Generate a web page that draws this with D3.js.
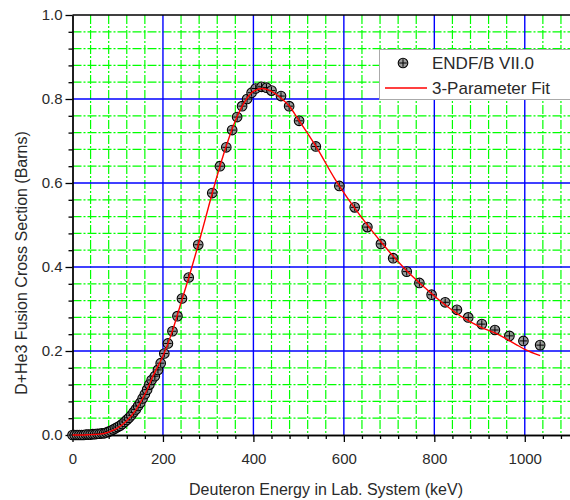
<!DOCTYPE html>
<html>
<head>
<meta charset="utf-8">
<script src="https://cdnjs.cloudflare.com/ajax/libs/d3/7.8.5/d3.min.js"></script>
<style>
body { margin: 0; background: #fff; }
text { font-family: "Liberation Sans", Arial, sans-serif; fill: #2a2a2a; }
</style>
</head>
<body>
<div id="chart"></div>
<script>
var width = 570;
var height = 500;

// ENDF/B VII.0 points (keV, barns)
var endfEnergy = [0, 5, 10, 15, 20, 25, 30, 35, 40, 45, 50, 55, 60, 65, 70, 75,
    80, 85, 90, 95, 100, 105, 110, 115, 120, 125, 130, 135, 140, 145, 150, 155,
    160, 165, 170, 175, 182, 189, 195, 203, 211, 221, 232, 242, 257, 278, 309,
    326, 340, 353, 364, 375, 386, 396, 405, 418, 429, 440, 461, 479, 501, 538,
    590, 624, 652, 682, 709, 739, 767, 794, 824, 850, 875, 905, 934, 966, 997, 1034];
var endfSigma = [0, 0, 0, 0, 0, 0, 0.001, 0.001, 0.001, 0.002, 0.002, 0.003, 0.003, 0.004, 0.004, 0.006,
    0.008, 0.010, 0.013, 0.016, 0.019, 0.022, 0.026, 0.031, 0.036, 0.041, 0.047, 0.054, 0.061, 0.069, 0.077, 0.087,
    0.097, 0.108, 0.120, 0.131, 0.140, 0.155, 0.171, 0.194, 0.218, 0.247, 0.283, 0.325, 0.375, 0.453, 0.576,
    0.640, 0.685, 0.726, 0.757, 0.783, 0.800, 0.815, 0.825, 0.829, 0.827, 0.820, 0.807, 0.783, 0.748, 0.687,
    0.593, 0.542, 0.495, 0.455, 0.421, 0.389, 0.362, 0.334, 0.316, 0.298, 0.280, 0.264, 0.250, 0.236, 0.224, 0.214];

// 3-parameter fit curve
var fitEnergy = [0, 20, 40, 60, 80, 100, 120, 140, 160, 180, 200, 220, 240, 260, 280, 300,
    320, 340, 360, 380, 400, 420, 440, 460, 480, 500, 540, 580, 620, 660, 700, 740,
    780, 820, 860, 900, 940, 980, 1000, 1034];
var fitSigma = [0, 0, 0.001, 0.002, 0.007, 0.017, 0.034, 0.060, 0.097, 0.145, 0.188, 0.245, 0.315, 0.385, 0.460, 0.540,
    0.618, 0.688, 0.748, 0.792, 0.818, 0.825, 0.818, 0.803, 0.782, 0.750, 0.684, 0.610, 0.546, 0.489, 0.437, 0.390,
    0.350, 0.313, 0.282, 0.258, 0.240, 0.216, 0.204, 0.189];

var xTicks = [0, 200, 400, 600, 800, 1000];
var yTicks = [0.0, 0.2, 0.4, 0.6, 0.8, 1.0];

var legendLabels = ["ENDF/B VII.0", "3-Parameter Fit"];

////////////////////////////////////////////////////////////////////////////////

var x = d3.scaleLinear().domain([0, 1100]).range([72.5, 570]);
var y = d3.scaleLinear().domain([0, 1]).range([435, 15]);

var xMinor = d3.range(0, 1101, 40).filter(function(d) { return d % 200 != 0; });
var yMinor = d3.range(1, 25).filter(function(i) { return i % 5 != 0; })
    .map(function(i) { return i * 0.04; });

var svg = d3.select('#chart').append('svg')
    .attr('width', width)
    .attr('height', height);

// grid
var grid = svg.append('g');
grid.selectAll('.gx').data(xMinor).enter().append('line')
    .attr('x1', function(d) { return x(d); })
    .attr('x2', function(d) { return x(d); })
    .attr('y1', y(1)).attr('y2', y(0))
    .attr('stroke', '#00ff00').attr('stroke-width', 1.2)
    .attr('stroke-dasharray', '9,2,2,2');
grid.selectAll('.gy').data(yMinor).enter().append('line')
    .attr('x1', x(0)).attr('x2', width)
    .attr('y1', function(d) { return y(d); })
    .attr('y2', function(d) { return y(d); })
    .attr('stroke', '#00ff00').attr('stroke-width', 1.2)
    .attr('stroke-dasharray', '9,2,2,2');
grid.selectAll('.mx').data(xTicks.slice(1)).enter().append('line')
    .attr('x1', function(d) { return x(d); })
    .attr('x2', function(d) { return x(d); })
    .attr('y1', y(1)).attr('y2', y(0))
    .attr('stroke', '#0000ff').attr('stroke-width', 1.4);
grid.selectAll('.my').data(yTicks.slice(1, -1)).enter().append('line')
    .attr('x1', x(0)).attr('x2', width)
    .attr('y1', function(d) { return y(d); })
    .attr('y2', function(d) { return y(d); })
    .attr('stroke', '#0000ff').attr('stroke-width', 1.4);

// top frame
svg.append('line')
    .attr('x1', x(0)).attr('x2', width)
    .attr('y1', y(1)).attr('y2', y(1))
    .attr('stroke', '#000').attr('stroke-width', 1.3);

// axes
var xAxisMinor = d3.axisBottom(x).tickValues(xMinor).tickSize(4).tickSizeOuter(0).tickFormat('');
var xAxis = d3.axisBottom(x).tickValues(xTicks).tickSize(7).tickSizeOuter(0).tickPadding(11)
    .tickFormat(d3.format('d'));
var yAxisMinor = d3.axisLeft(y).tickValues(yMinor).tickSize(4).tickSizeOuter(0).tickFormat('');
var yAxis = d3.axisLeft(y).tickValues(yTicks).tickSize(7).tickSizeOuter(0).tickPadding(3)
    .tickFormat(d3.format('.1f'));

[xAxisMinor, xAxis].forEach(function(a) {
    svg.append('g').attr('transform', 'translate(0,' + y(0) + ')').call(a);
});
[yAxisMinor, yAxis].forEach(function(a) {
    svg.append('g').attr('transform', 'translate(' + x(0) + ',0)').call(a);
});
svg.selectAll('.domain, .tick line').attr('stroke', '#000').attr('stroke-width', 1.3);
svg.selectAll('.tick text')
    .style('font-family', '"Liberation Sans", Arial, sans-serif')
    .style('font-size', '15px')
    .attr('fill', '#2a2a2a');

// axis titles
svg.append('text')
    .attr('x', 326).attr('y', 495)
    .attr('text-anchor', 'middle')
    .style('font-size', '16px')
    .text('Deuteron Energy in Lab. System (keV)');
svg.append('text')
    .attr('transform', 'translate(27,263) rotate(-90)')
    .attr('text-anchor', 'middle')
    .style('font-size', '16px')
    .text('D+He3 Fusion Cross Section (Barns)');

// markers
function drawMarker(g) {
    g.append('circle')
        .attr('r', 4.8)
        .attr('fill', '#8c8c8c')
        .attr('fill-opacity', 0.85)
        .attr('stroke', '#000')
        .attr('stroke-width', 1.1);
    g.append('path')
        .attr('d', 'M-3.8,0H3.8M0,-3.8V3.8')
        .attr('stroke', '#000')
        .attr('stroke-width', 1);
}

var points = svg.append('g').selectAll('g')
    .data(endfEnergy)
    .enter().append('g')
    .attr('transform', function(d, i) {
        return 'translate(' + x(d) + ',' + y(endfSigma[i]) + ')';
    });
drawMarker(points);

// fit line
var line = d3.line()
    .x(function(d) { return x(d); })
    .y(function(d, i) { return y(fitSigma[i]); })
    .curve(d3.curveMonotoneX);
svg.append('path')
    .attr('d', line(fitEnergy))
    .attr('fill', 'none')
    .attr('stroke', '#ff0000')
    .attr('stroke-width', 1.4);

// legend
var legend = svg.append('g');
legend.append('rect')
    .attr('x', 379.5).attr('y', 49.5)
    .attr('width', 200).attr('height', 50)
    .attr('fill', '#fff')
    .attr('stroke', '#aaa');
drawMarker(legend.append('g').attr('transform', 'translate(403,63)'));
legend.append('line')
    .attr('x1', 385).attr('x2', 427)
    .attr('y1', 88).attr('y2', 88)
    .attr('stroke', '#ff0000').attr('stroke-width', 1.4);
legend.selectAll('.lt').data(legendLabels).enter().append('text')
    .attr('x', 432)
    .attr('y', function(d, i) { return 69 + i * 25; })
    .style('font-size', '17px')
    .text(function(d) { return d; });
</script>
</body>
</html>
